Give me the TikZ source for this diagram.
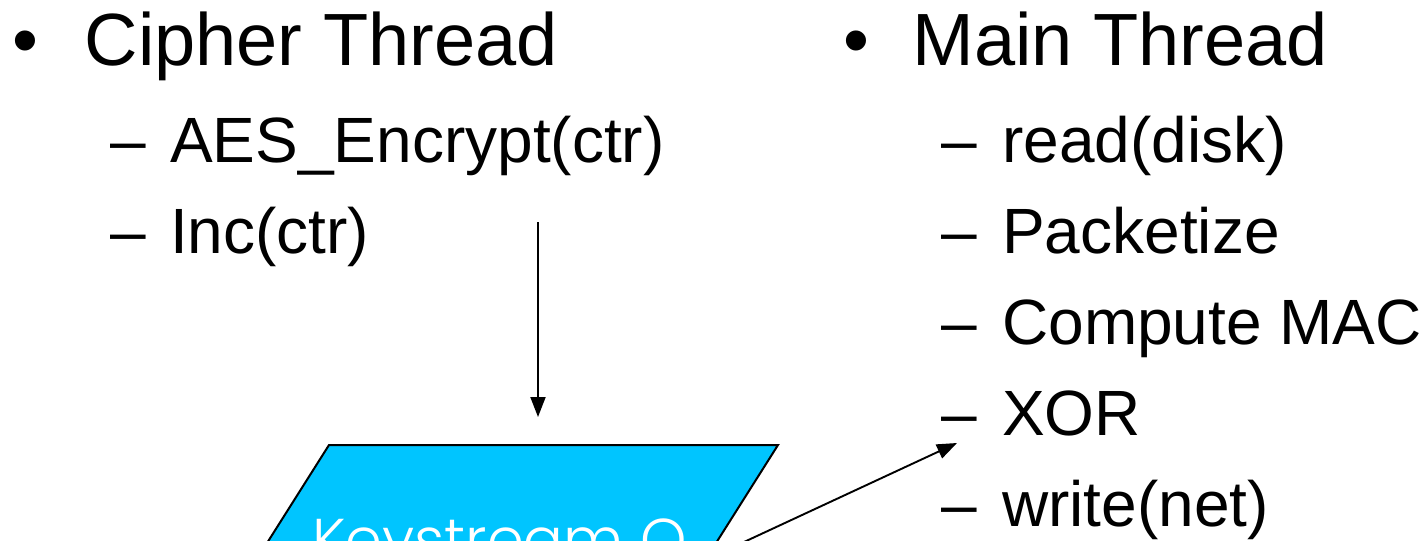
\documentclass[tikz,border=0pt]{standalone}
\usepackage{fontspec}
\setmainfont{Liberation Sans}
\newfontfamily\boxfont{Poppins Light}
\usetikzlibrary{arrows.meta}
\definecolor{queuecyan}{RGB}{0,197,255}

\begin{document}
\begin{tikzpicture}[x=1pt,y=-1pt,
  headtxt/.style={anchor=base west, inner sep=0pt, font=\fontsize{74}{74}\selectfont},
  subtxt/.style={anchor=base west, inner sep=0pt, font=\fontsize{64}{64}\selectfont},
  flow/.style={line width=1.9pt, -{Triangle[length=20pt,width=15pt]}},
]
\useasboundingbox (0,0) rectangle (1425,541);

% Keystream queue (its lower part runs off the page)
\draw[line width=2pt, fill=queuecyan] (329,445) -- (778,445) -- (680,600) -- (231,600) -- cycle;
\node[anchor=base west, inner sep=0pt, text=white, font=\boxfont\fontsize{59}{59}\selectfont]
  (queue) at (312,560) {Keystream Q};

% Cipher thread column
\node[headtxt] (cb) at (12,65) {•};
\node[headtxt] (ch) at (84.5,65) {Cipher Thread};
\node[subtxt] (cd1) at (110,162) {–};
\node[subtxt] (c1) at (170,162) {AES\_Encrypt(ctr)};
\node[subtxt] (cd2) at (110,253) {–};
\node[subtxt] (c2) at (170,253) {Inc(ctr)};

% Main thread column
\node[headtxt] (mb) at (843,65) {•};
\node[headtxt] (mh) at (912.5,65) {Main Thread};
\foreach \i/\t in {1/read(disk),2/Packetize,3/Compute MAC,4/XOR,5/write(net)}{
  \node[subtxt] (md\i) at (941,{162+91*(\i-1)}) {–};
  \node[subtxt] (m\i) at (1002,{162+91*(\i-1)}) {\t};
}

% Connectors
\coordinate (ctop) at (538,222);
\coordinate (qin) at (538,417);
\draw[flow] (ctop) -- (qin);
\coordinate (qout) at (744,542);
\coordinate (xorin) at (957,443);
\draw[flow] (qout) -- (xorin);
\end{tikzpicture}
\end{document}
